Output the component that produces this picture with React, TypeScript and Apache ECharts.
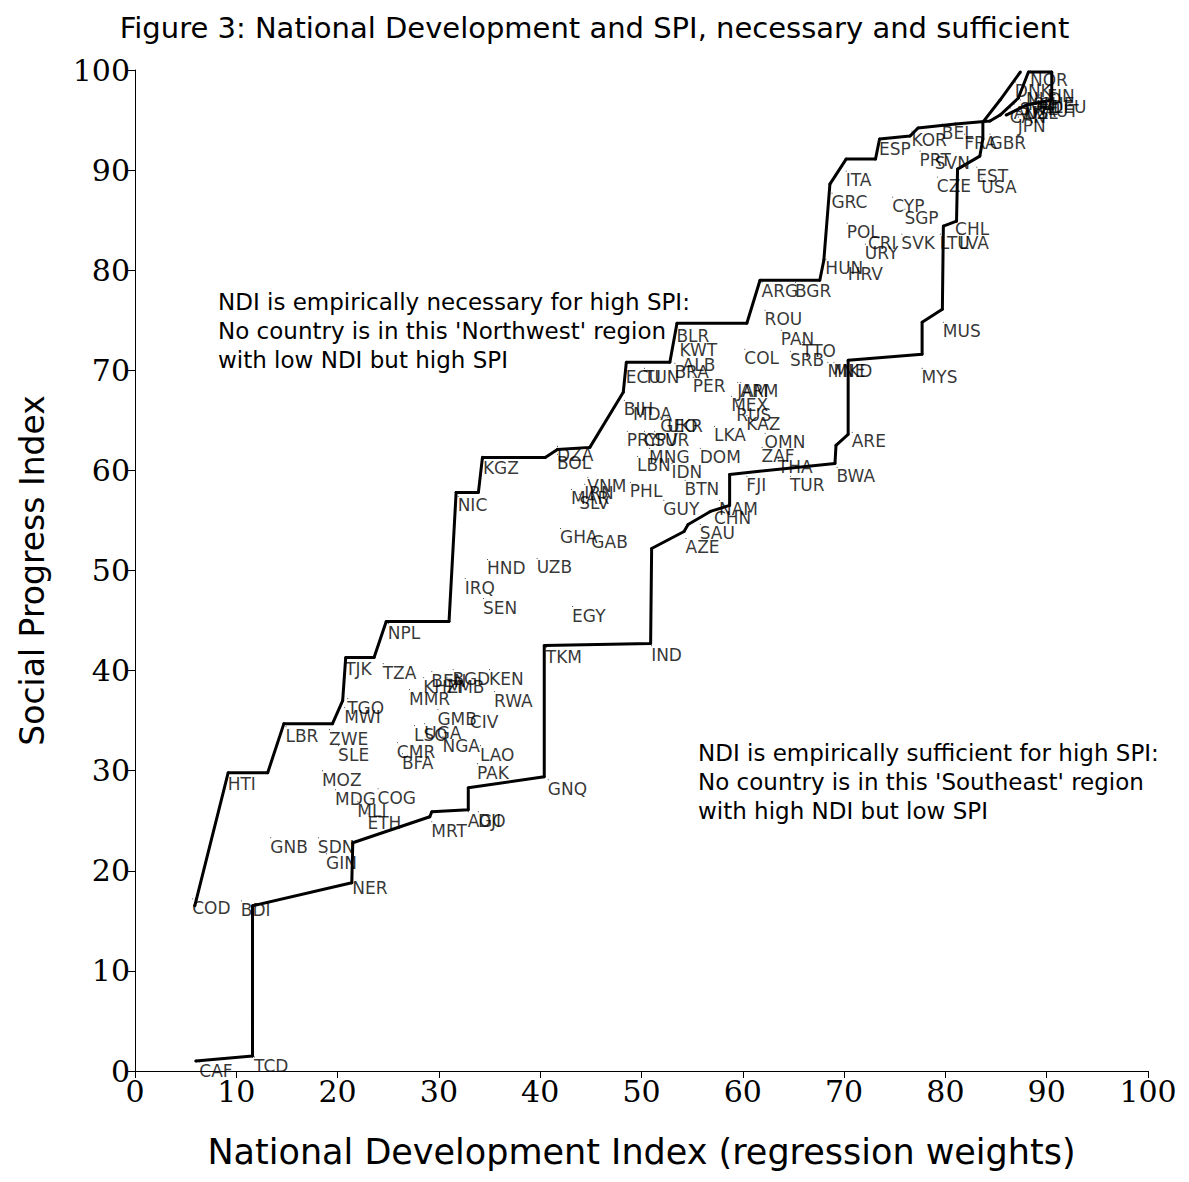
import React, { useEffect, useRef } from "react";
import * as echarts from "echarts";

const countries: string[] = [
  "NOR","DNK","FIN","CHE","ISL","SWE","AUS","NLD","CAN","IRL","NZL","DEU","AUT","JPN","GBR","FRA","BEL","KOR","ESP","PRT","SVN","EST","CZE","USA","ITA","GRC","CYP","SGP","CHL","POL","LTU","LVA","SVK","CRI","URY","HUN","HRV","ARG","BGR","ROU","PAN","TTO","COL","SRB","MNE","MKD","MYS","MUS","BLR","KWT","ALB","BRA","ECU","TUN","PER","JAM","ARM","MEX","RUS","KAZ","BIH","MDA","UKR","GEO","LKA","PRY","CPV","SUR","MNG","DOM","LBN","IDN","OMN","ZAF","THA","ARE","BWA","TUR","FJI","BTN","GUY","NAM","CHN","SAU","AZE","DZA","BOL","KGZ","VNM","PHL","MAR","SLV","IRN","NIC","GHA","GAB","HND","UZB","IRQ","SEN","EGY","NPL","TKM","IND","TJK","TZA","BEN","KHM","ZMB","BGD","KEN","MMR","RWA","TGO","MWI","GMB","CIV","LBR","LSO","UGA","ZWE","NGA","SLE","CMR","BFA","LAO","MOZ","PAK","HTI","GNQ","MDG","COG","MLI","ETH","MRT","AGO","DJI","GNB","SDN","GIN","NER","COD","BDI","CAF","TCD"
];
const ndi: number[] = [
  88.4,86.9,90.1,89.3,88.2,87.4,86.8,88.0,86.4,89.0,87.8,90.4,89.8,87.2,84.4,81.9,79.7,76.7,73.5,77.5,79.0,83.1,79.2,83.6,70.2,68.8,74.8,76.0,81.0,70.3,79.5,81.4,75.7,72.4,72.1,68.2,70.4,61.9,65.2,62.2,63.8,65.9,60.2,64.7,68.4,69.0,77.7,79.8,53.5,53.8,54.1,53.3,48.5,50.3,55.1,59.5,59.8,58.9,59.4,60.4,48.3,49.2,52.6,51.9,57.2,48.6,50.3,51.3,50.8,55.8,49.6,53.0,62.2,61.9,63.5,70.8,69.3,64.7,60.4,54.3,52.2,57.7,57.2,55.8,54.4,41.7,41.7,34.4,44.7,48.9,43.1,43.9,44.4,31.9,42.0,45.1,34.8,39.7,32.6,34.4,43.2,25.0,40.6,51.0,20.8,24.5,29.3,28.5,30.8,31.4,35.0,27.1,35.5,21.0,20.7,29.9,33.1,14.9,27.6,28.6,19.2,30.4,20.1,25.9,26.4,34.1,18.5,33.8,9.2,40.8,19.8,24.0,22.0,23.0,29.3,32.9,33.9,13.4,18.1,18.9,21.5,5.7,10.5,6.4,11.8
];
const spi: number[] = [
  99.9,98.8,98.3,97.5,97.5,97.0,96.6,98.0,96.2,97.2,96.6,97.2,96.8,95.3,93.6,93.6,94.6,93.9,93.0,91.9,91.6,90.3,89.3,89.2,89.9,87.7,87.3,86.1,85.0,84.7,83.6,83.6,83.6,83.6,82.6,81.1,80.5,78.8,78.8,76.0,74.0,72.8,72.1,71.9,70.8,70.8,70.2,74.8,74.3,72.9,71.4,70.7,70.2,70.2,69.3,68.8,68.8,67.4,66.4,65.5,67.0,66.5,65.3,65.3,64.4,63.9,63.9,63.9,62.2,62.2,61.4,60.7,63.7,62.3,61.2,63.8,60.3,59.4,59.4,59.0,57.0,57.0,56.1,54.6,53.2,62.4,61.6,61.1,59.3,58.8,58.1,57.6,58.6,57.4,54.2,53.7,51.1,51.2,49.2,47.2,46.4,44.7,42.3,42.5,41.1,40.7,39.9,39.3,39.3,40.1,40.1,38.1,37.9,37.2,36.3,36.1,35.8,34.4,34.5,34.7,34.1,33.4,32.5,32.8,31.7,32.5,30.0,30.7,29.6,29.1,28.1,28.2,26.9,25.7,24.9,25.9,25.9,23.3,23.3,21.7,19.2,17.2,17.0,0.9,1.4
];

const upperLine: number[][] = [
  [5.9,16.5],[9.2,29.8],[13.1,29.8],[14.7,34.7],[19.5,34.7],[20.5,37.0],[20.8,41.3],[23.6,41.3],[24.8,44.9],[31.0,44.9],[31.7,57.8],[33.9,57.8],[34.3,61.3],[40.5,61.3],[41.7,62.1],[44.9,62.3],[48.2,67.8],[48.5,70.8],[52.8,70.8],[53.5,74.7],[60.4,74.7],[61.7,79.0],[67.6,79.0],[68.0,81.0],[68.6,88.6],[70.2,91.1],[73.1,91.1],[73.5,93.1],[76.5,93.4],[77.3,94.2],[81.0,94.6],[84.4,94.9],[85.4,95.5],[87.2,97.2],[88.2,99.8],[90.5,99.8],[90.5,97.0],[88.0,96.5],[86.0,95.5]
];
const lowerLine: number[][] = [
  [6.0,1.0],[11.6,1.5],[11.6,16.5],[21.4,18.8],[21.5,22.8],[29.1,25.4],[29.3,25.9],[32.9,26.1],[32.9,28.3],[40.4,29.4],[40.4,42.5],[50.9,42.7],[51.0,52.2],[54.2,53.9],[54.6,54.6],[56.8,55.9],[58.7,56.5],[58.7,59.6],[69.1,60.7],[69.2,62.5],[70.4,63.6],[70.4,71.0],[77.7,71.6],[77.7,74.8],[79.7,76.1],[79.8,84.4],[81.1,84.9],[81.2,90.1],[83.4,91.4],[83.7,93.1],[83.7,94.8],[85.4,97.0],[87.4,99.8]
];

const axisTicks: number[] = [0,10,20,30,40,50,60,70,80,90,100];

const noteNW: string[] = [
  "NDI is empirically necessary for high SPI:",
  "No country is in this 'Northwest' region",
  "with low NDI but high SPI",
];
const noteSE: string[] = [
  "NDI is empirically sufficient for high SPI:",
  "No country is in this 'Southeast' region",
  "with high NDI but low SPI",
];

export default function App() {
  const ref = useRef<HTMLDivElement>(null);
  useEffect(() => {
    if (!ref.current) return;
    const chart = echarts.init(ref.current, null, { renderer: "svg" });
    const sans = "DejaVu Sans";
    const serif = "DejaVu Serif";
    const pts = countries.map((c, i) => ({ name: c, value: [ndi[i], spi[i]] }));
    const noteText = (lines: string[], left: number, top: number) => ({
      type: "text",
      left,
      top,
      style: { text: lines.join("\n"), font: `23px '${sans}'`, fill: "#000", lineHeight: 29 },
    });
    chart.setOption({
      animation: false,
      backgroundColor: "#fff",
      title: {
        text: "Figure 3: National Development and SPI, necessary and sufficient",
        left: "center",
        top: 0,
        textStyle: { fontFamily: sans, fontSize: 29, fontWeight: "normal", color: "#000" },
      },
      grid: { left: 127, right: 33, top: 62, bottom: 96 },
      xAxis: {
        type: "value", min: 0, max: 100, interval: 10,
        name: "National Development Index (regression weights)",
        nameLocation: "middle", nameGap: 63,
        nameTextStyle: { fontFamily: sans, fontSize: 35, color: "#000" },
        axisLine: { show: true, onZero: false, lineStyle: { color: "#000", width: 1 } },
        axisTick: { show: true, length: 7, lineStyle: { color: "#000" } },
        axisLabel: { fontFamily: serif, fontSize: 30, color: "#000", margin: 5,
          formatter: (v: number) => (axisTicks.includes(v) ? String(v) : "") },
        splitLine: { show: false },
      },
      yAxis: {
        type: "value", min: 0, max: 100, interval: 10,
        name: "Social Progress Index",
        nameLocation: "middle", nameGap: 86,
        nameTextStyle: { fontFamily: sans, fontSize: 33, color: "#000" },
        axisLine: { show: true, onZero: false, lineStyle: { color: "#000", width: 1 } },
        axisTick: { show: true, length: 7, lineStyle: { color: "#000" } },
        axisLabel: { fontFamily: serif, fontSize: 30, color: "#000", margin: 5 },
        splitLine: { show: false },
      },
      series: [
        {
          type: "line", data: upperLine, symbol: "circle", symbolSize: 3, showSymbol: true,
          lineStyle: { color: "#000", width: 3 }, itemStyle: { color: "#000" }, z: 2,
        },
        {
          type: "line", data: lowerLine, symbol: "circle", symbolSize: 3, showSymbol: true,
          lineStyle: { color: "#000", width: 3 }, itemStyle: { color: "#000" }, z: 2,
        },
        {
          type: "scatter", data: pts, symbolSize: 1, itemStyle: { color: "#000" }, z: 3,
          label: {
            show: true, formatter: "{b}", position: [0, 1], align: "left", verticalAlign: "top",
            fontFamily: sans, fontSize: 17, color: "#000",
          },
          labelLayout: { hideOverlap: false },
        },
      ],
      graphic: [noteText(noteNW, 210, 279), noteText(noteSE, 690, 730)],
    });
    return () => chart.dispose();
  }, []);
  return <div ref={ref} style={{ width: 1173, height: 1166 }} />;
}
